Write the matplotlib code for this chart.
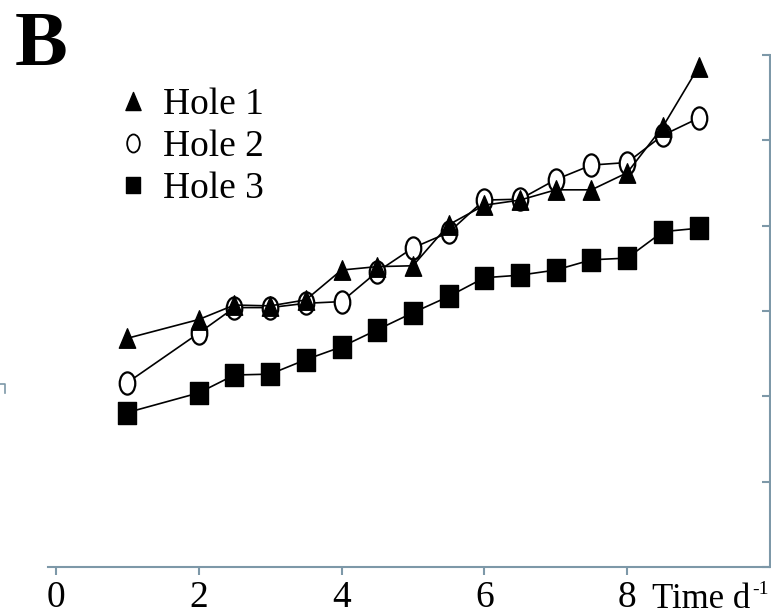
import matplotlib.pyplot as plt
from matplotlib.path import Path
from matplotlib.lines import Line2D
from matplotlib.transforms import Affine2D

plt.rcParams['font.family'] = 'Liberation Serif'

# days
time = [1, 2, 2.5, 3, 3.5, 4, 4.5, 5, 5.5, 6, 6.5, 7, 7.5, 8, 8.5, 9]
hole1 = [2.68, 2.90, 3.07, 3.06, 3.13, 3.48, 3.52, 3.53, 4.01, 4.24, 4.30, 4.42, 4.42, 4.62, 5.16, 5.86]
hole2 = [2.16, 2.74, 3.04, 3.04, 3.09, 3.11, 3.46, 3.74, 3.92, 4.30, 4.31, 4.54, 4.71, 4.74, 5.06, 5.26]
hole3 = [1.81, 2.04, 2.25, 2.26, 2.43, 2.58, 2.78, 2.98, 3.17, 3.39, 3.42, 3.48, 3.60, 3.62, 3.93, 3.97]
labels = ['Hole 1', 'Hole 2', 'Hole 3']
xticks = [0, 2, 4, 6, 8]

axcol = '#7d98a8'

# the scan is stretched a bit vertically, so markers are taller than wide
tri = Path([(0, 1), (-0.84, -1), (0.84, -1), (0, 1)], closed=True)
sq = Path([(-0.82, -1), (0.82, -1), (0.82, 1), (-0.82, 1), (-0.82, -1)], closed=True)
circ = Path.unit_circle().transformed(Affine2D().scale(0.7, 1))

fig = plt.figure(figsize=(7.71, 6.16), dpi=100)
ax = fig.add_axes([48/771, 49/616, 722/771, 512/616])

ax.plot(time, hole2, color='black', lw=1.2, marker=circ, ms=16, mfc='white', mec='black', mew=1.6, zorder=2)
ax.plot(time, hole1, color='black', lw=1.2, marker=tri, ms=14, mfc='black', mec='black', zorder=3)
ax.plot(time, hole3, color='black', lw=1.2, marker=sq, ms=16, mfc='black', mec='black', zorder=3)

ax.set_xlim(-0.11, 10)
ax.set_ylim(0, 6)
ax.spines['top'].set_visible(False)
ax.spines['left'].set_visible(False)
ax.spines['bottom'].set_color(axcol)
ax.spines['right'].set_color(axcol)
ax.spines['bottom'].set_linewidth(1.5)
ax.spines['right'].set_linewidth(1.5)

ax.set_xticks(xticks)
ax.set_xticklabels([str(t) for t in xticks], fontsize=27)
ax.tick_params(axis='x', direction='out', length=6, width=1.5, color=axcol, pad=4)
ax.yaxis.tick_right()
ax.set_yticks(range(7))
ax.tick_params(axis='y', direction='in', length=6, width=1.5, color=axcol, labelright=False)

handles = [
    Line2D([], [], ls='none', marker=tri, ms=13, color='black'),
    Line2D([], [], ls='none', marker=circ, ms=13, mfc='white', mec='black', mew=1.3),
    Line2D([], [], ls='none', marker=sq, ms=12, color='black'),
]
ax.legend(handles, labels, loc='upper left', bbox_to_anchor=(118/771, 1 - 88/616),
          bbox_transform=fig.transFigure, frameon=False, fontsize=27,
          handlelength=0.8, handletextpad=0.4, labelspacing=0.2,
          borderpad=0, borderaxespad=0)

fig.text(15/771, 1 - 65/616, 'B', fontsize=57, fontweight='bold', va='baseline')
fig.text(652/771, 8/616, 'Time d', fontsize=25, va='baseline')
fig.text(752/771, 22/616, '-1', fontsize=14, va='baseline')

# bit of the neighbouring panel's axis at the left edge
fig.add_artist(Line2D([0, 5/771, 5/771], [1 - 384/616, 1 - 384/616, 1 - 393/616],
                      color=axcol, lw=1.2))

plt.savefig('out.png', dpi=100)
